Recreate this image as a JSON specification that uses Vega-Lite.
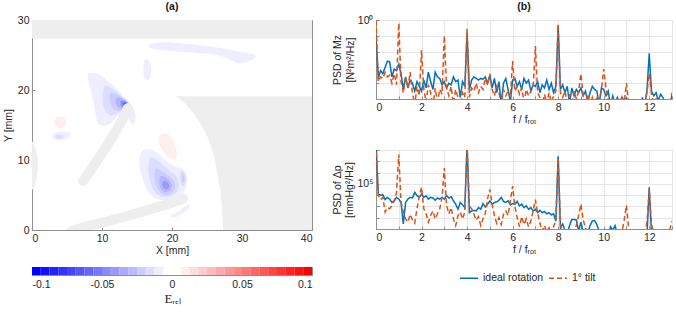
{
  "$schema": "https://vega.github.io/schema/vega-lite/v6.json",
  "background": "white",
  "padding": {"left": 2, "top": 1, "right": 2, "bottom": 2},
  "config": {
    "font": "Liberation Sans",
    "view": {"stroke": "#8f8f8f", "strokeWidth": 1},
    "axis": {
      "labelFontSize": 10.5, "titleFontSize": 10.5, "labelColor": "#262626", "titleColor": "#262626",
      "titleFontWeight": "normal", "domainColor": "#8f8f8f", "tickColor": "#8f8f8f", "gridColor": "#e6e6e6",
      "tickSize": -3, "labelPadding": 6
    },
    "title": {"fontSize": 10.5, "fontWeight": "bold", "color": "#1a1a1a", "offset": 3},
    "legend": {"labelFontSize": 10.5, "labelColor": "#262626"}
  },
  "spacing": 18,
  "hconcat": [
    {
      "bounds": "flush",
      "spacing": 37,
      "vconcat": [
        {
          "width": 280, "height": 210,
          "title": "(a)",
          "layer": [
            {
              "data": {"name": "contours", "values": [
                {"id": "c01", "lvl": -0.0094, "i": 0, "x": 8.0, "y": 22.2}, {"id": "c01", "lvl": -0.0094, "i": 1, "x": 9.0, "y": 22.4}, {"id": "c01", "lvl": -0.0094, "i": 2, "x": 10.2, "y": 21.8}, {"id": "c01", "lvl": -0.0094, "i": 3, "x": 11.5, "y": 20.7}, {"id": "c01", "lvl": -0.0094, "i": 4, "x": 12.6, "y": 19.6}, {"id": "c01", "lvl": -0.0094, "i": 5, "x": 13.6, "y": 18.6}, {"id": "c01", "lvl": -0.0094, "i": 6, "x": 14.4, "y": 17.5}, {"id": "c01", "lvl": -0.0094, "i": 7, "x": 14.8, "y": 16.3}, {"id": "c01", "lvl": -0.0094, "i": 8, "x": 14.5, "y": 15.1}, {"id": "c01", "lvl": -0.0094, "i": 9, "x": 13.9, "y": 15.8}, {"id": "c01", "lvl": -0.0094, "i": 10, "x": 13.2, "y": 16.6}, {"id": "c01", "lvl": -0.0094, "i": 11, "x": 12.2, "y": 16.2}, {"id": "c01", "lvl": -0.0094, "i": 12, "x": 11.3, "y": 15.3}, {"id": "c01", "lvl": -0.0094, "i": 13, "x": 10.3, "y": 14.9}, {"id": "c01", "lvl": -0.0094, "i": 14, "x": 9.4, "y": 15.3}, {"id": "c01", "lvl": -0.0094, "i": 15, "x": 9.0, "y": 17.0}, {"id": "c01", "lvl": -0.0094, "i": 16, "x": 8.6, "y": 19.2}, {"id": "c01", "lvl": -0.0094, "i": 17, "x": 8.1, "y": 21.0},
                {"id": "c02", "lvl": -0.0156, "i": 0, "x": 10.4, "y": 20.6}, {"id": "c02", "lvl": -0.0156, "i": 1, "x": 11.6, "y": 20.1}, {"id": "c02", "lvl": -0.0156, "i": 2, "x": 12.7, "y": 19.2}, {"id": "c02", "lvl": -0.0156, "i": 3, "x": 13.6, "y": 18.4}, {"id": "c02", "lvl": -0.0156, "i": 4, "x": 14.1, "y": 17.5}, {"id": "c02", "lvl": -0.0156, "i": 5, "x": 13.4, "y": 17.0}, {"id": "c02", "lvl": -0.0156, "i": 6, "x": 12.3, "y": 16.7}, {"id": "c02", "lvl": -0.0156, "i": 7, "x": 11.2, "y": 16.4}, {"id": "c02", "lvl": -0.0156, "i": 8, "x": 10.4, "y": 17.2}, {"id": "c02", "lvl": -0.0156, "i": 9, "x": 10.1, "y": 18.8},
                {"id": "c03", "lvl": -0.0219, "i": 0, "x": 11.3, "y": 19.6}, {"id": "c03", "lvl": -0.0219, "i": 1, "x": 12.4, "y": 19.2}, {"id": "c03", "lvl": -0.0219, "i": 2, "x": 13.4, "y": 18.5}, {"id": "c03", "lvl": -0.0219, "i": 3, "x": 13.9, "y": 17.8}, {"id": "c03", "lvl": -0.0219, "i": 4, "x": 13.0, "y": 17.2}, {"id": "c03", "lvl": -0.0219, "i": 5, "x": 11.9, "y": 17.1}, {"id": "c03", "lvl": -0.0219, "i": 6, "x": 11.3, "y": 17.9}, {"id": "c03", "lvl": -0.0219, "i": 7, "x": 11.1, "y": 18.8},
                {"id": "c04", "lvl": -0.03, "i": 0, "x": 12.1, "y": 18.9}, {"id": "c04", "lvl": -0.03, "i": 1, "x": 13.0, "y": 18.7}, {"id": "c04", "lvl": -0.03, "i": 2, "x": 13.7, "y": 18.1}, {"id": "c04", "lvl": -0.03, "i": 3, "x": 13.3, "y": 17.5}, {"id": "c04", "lvl": -0.03, "i": 4, "x": 12.5, "y": 17.4}, {"id": "c04", "lvl": -0.03, "i": 5, "x": 12.0, "y": 18.0},
                {"id": "c05", "lvl": -0.045, "i": 0, "x": 12.7, "y": 18.4}, {"id": "c05", "lvl": -0.045, "i": 1, "x": 13.3, "y": 18.4}, {"id": "c05", "lvl": -0.045, "i": 2, "x": 13.7, "y": 18.0}, {"id": "c05", "lvl": -0.045, "i": 3, "x": 13.2, "y": 17.6}, {"id": "c05", "lvl": -0.045, "i": 4, "x": 12.7, "y": 17.8},
                {"id": "c06", "lvl": -0.065, "i": 0, "x": 13.1, "y": 18.2}, {"id": "c06", "lvl": -0.065, "i": 1, "x": 13.5, "y": 18.1}, {"id": "c06", "lvl": -0.065, "i": 2, "x": 13.5, "y": 17.8}, {"id": "c06", "lvl": -0.065, "i": 3, "x": 13.1, "y": 17.8},
                {"id": "c11", "lvl": -0.0094, "i": 0, "x": 15.8, "y": 11.3}, {"id": "c11", "lvl": -0.0094, "i": 1, "x": 16.8, "y": 11.5}, {"id": "c11", "lvl": -0.0094, "i": 2, "x": 17.8, "y": 11.1}, {"id": "c11", "lvl": -0.0094, "i": 3, "x": 18.8, "y": 10.2}, {"id": "c11", "lvl": -0.0094, "i": 4, "x": 19.7, "y": 9.5}, {"id": "c11", "lvl": -0.0094, "i": 5, "x": 20.6, "y": 9.0}, {"id": "c11", "lvl": -0.0094, "i": 6, "x": 21.4, "y": 8.8}, {"id": "c11", "lvl": -0.0094, "i": 7, "x": 22.0, "y": 8.0}, {"id": "c11", "lvl": -0.0094, "i": 8, "x": 22.1, "y": 6.8}, {"id": "c11", "lvl": -0.0094, "i": 9, "x": 21.8, "y": 5.6}, {"id": "c11", "lvl": -0.0094, "i": 10, "x": 21.1, "y": 4.8}, {"id": "c11", "lvl": -0.0094, "i": 11, "x": 20.0, "y": 4.4}, {"id": "c11", "lvl": -0.0094, "i": 12, "x": 18.7, "y": 4.3}, {"id": "c11", "lvl": -0.0094, "i": 13, "x": 17.5, "y": 4.6}, {"id": "c11", "lvl": -0.0094, "i": 14, "x": 16.5, "y": 5.6}, {"id": "c11", "lvl": -0.0094, "i": 15, "x": 15.8, "y": 7.3}, {"id": "c11", "lvl": -0.0094, "i": 16, "x": 15.4, "y": 9.0}, {"id": "c11", "lvl": -0.0094, "i": 17, "x": 15.4, "y": 10.4},
                {"id": "c12", "lvl": -0.0156, "i": 0, "x": 16.9, "y": 10.3}, {"id": "c12", "lvl": -0.0156, "i": 1, "x": 17.9, "y": 10.0}, {"id": "c12", "lvl": -0.0156, "i": 2, "x": 18.9, "y": 9.1}, {"id": "c12", "lvl": -0.0156, "i": 3, "x": 19.9, "y": 8.3}, {"id": "c12", "lvl": -0.0156, "i": 4, "x": 20.7, "y": 7.6}, {"id": "c12", "lvl": -0.0156, "i": 5, "x": 21.0, "y": 6.4}, {"id": "c12", "lvl": -0.0156, "i": 6, "x": 20.5, "y": 5.2}, {"id": "c12", "lvl": -0.0156, "i": 7, "x": 19.4, "y": 4.7}, {"id": "c12", "lvl": -0.0156, "i": 8, "x": 18.2, "y": 4.9}, {"id": "c12", "lvl": -0.0156, "i": 9, "x": 17.3, "y": 5.8}, {"id": "c12", "lvl": -0.0156, "i": 10, "x": 16.8, "y": 7.2}, {"id": "c12", "lvl": -0.0156, "i": 11, "x": 16.6, "y": 8.8},
                {"id": "c13", "lvl": -0.0219, "i": 0, "x": 17.7, "y": 8.8}, {"id": "c13", "lvl": -0.0219, "i": 1, "x": 18.7, "y": 8.3}, {"id": "c13", "lvl": -0.0219, "i": 2, "x": 19.8, "y": 7.5}, {"id": "c13", "lvl": -0.0219, "i": 3, "x": 20.4, "y": 6.6}, {"id": "c13", "lvl": -0.0219, "i": 4, "x": 20.2, "y": 5.5}, {"id": "c13", "lvl": -0.0219, "i": 5, "x": 19.3, "y": 5.0}, {"id": "c13", "lvl": -0.0219, "i": 6, "x": 18.4, "y": 5.3}, {"id": "c13", "lvl": -0.0219, "i": 7, "x": 17.8, "y": 6.2}, {"id": "c13", "lvl": -0.0219, "i": 8, "x": 17.5, "y": 7.5},
                {"id": "c14", "lvl": -0.03, "i": 0, "x": 18.4, "y": 7.7}, {"id": "c14", "lvl": -0.03, "i": 1, "x": 19.3, "y": 7.4}, {"id": "c14", "lvl": -0.03, "i": 2, "x": 19.9, "y": 6.6}, {"id": "c14", "lvl": -0.03, "i": 3, "x": 19.7, "y": 5.7}, {"id": "c14", "lvl": -0.03, "i": 4, "x": 19.0, "y": 5.4}, {"id": "c14", "lvl": -0.03, "i": 5, "x": 18.4, "y": 5.9}, {"id": "c14", "lvl": -0.03, "i": 6, "x": 18.2, "y": 6.8},
                {"id": "c15", "lvl": -0.04, "i": 0, "x": 18.8, "y": 7.0}, {"id": "c15", "lvl": -0.04, "i": 1, "x": 19.4, "y": 6.8}, {"id": "c15", "lvl": -0.04, "i": 2, "x": 19.6, "y": 6.2}, {"id": "c15", "lvl": -0.04, "i": 3, "x": 19.2, "y": 5.8}, {"id": "c15", "lvl": -0.04, "i": 4, "x": 18.8, "y": 6.0}, {"id": "c15", "lvl": -0.04, "i": 5, "x": 18.6, "y": 6.5},
                {"id": "c16", "lvl": -0.0156, "i": 0, "x": 21.3, "y": 8.5}, {"id": "c16", "lvl": -0.0156, "i": 1, "x": 21.8, "y": 8.2}, {"id": "c16", "lvl": -0.0156, "i": 2, "x": 22.0, "y": 7.2}, {"id": "c16", "lvl": -0.0156, "i": 3, "x": 21.7, "y": 6.3}, {"id": "c16", "lvl": -0.0156, "i": 4, "x": 21.3, "y": 6.6}, {"id": "c16", "lvl": -0.0156, "i": 5, "x": 21.1, "y": 7.6},
                {"id": "c17", "lvl": -0.0219, "i": 0, "x": 21.45, "y": 7.9}, {"id": "c17", "lvl": -0.0219, "i": 1, "x": 21.75, "y": 7.6}, {"id": "c17", "lvl": -0.0219, "i": 2, "x": 21.7, "y": 6.9}, {"id": "c17", "lvl": -0.0219, "i": 3, "x": 21.45, "y": 7.0},
                {"id": "c18", "lvl": -0.0094, "i": 0, "x": 19.8, "y": 2.0}, {"id": "c18", "lvl": -0.0094, "i": 1, "x": 20.8, "y": 2.6}, {"id": "c18", "lvl": -0.0094, "i": 2, "x": 21.8, "y": 3.3}, {"id": "c18", "lvl": -0.0094, "i": 3, "x": 22.4, "y": 3.7}, {"id": "c18", "lvl": -0.0094, "i": 4, "x": 22.3, "y": 3.0}, {"id": "c18", "lvl": -0.0094, "i": 5, "x": 21.5, "y": 2.4}, {"id": "c18", "lvl": -0.0094, "i": 6, "x": 20.4, "y": 1.8},
                {"id": "c21", "lvl": -0.0094, "i": 0, "x": 2.9, "y": 13.5}, {"id": "c21", "lvl": -0.0094, "i": 1, "x": 3.4, "y": 13.9}, {"id": "c21", "lvl": -0.0094, "i": 2, "x": 4.4, "y": 14.0}, {"id": "c21", "lvl": -0.0094, "i": 3, "x": 5.4, "y": 13.9}, {"id": "c21", "lvl": -0.0094, "i": 4, "x": 5.3, "y": 13.3}, {"id": "c21", "lvl": -0.0094, "i": 5, "x": 4.4, "y": 12.9}, {"id": "c21", "lvl": -0.0094, "i": 6, "x": 3.3, "y": 12.9},
                {"id": "c22", "lvl": -0.0156, "i": 0, "x": 3.3, "y": 13.4}, {"id": "c22", "lvl": -0.0156, "i": 1, "x": 3.8, "y": 13.6}, {"id": "c22", "lvl": -0.0156, "i": 2, "x": 4.5, "y": 13.5}, {"id": "c22", "lvl": -0.0156, "i": 3, "x": 4.3, "y": 13.1}, {"id": "c22", "lvl": -0.0156, "i": 4, "x": 3.5, "y": 13.1},
                {"id": "c31", "lvl": -0.0094, "i": 0, "x": 16.8, "y": 26.5}, {"id": "c31", "lvl": -0.0094, "i": 1, "x": 18.5, "y": 26.8}, {"id": "c31", "lvl": -0.0094, "i": 2, "x": 21.0, "y": 26.7}, {"id": "c31", "lvl": -0.0094, "i": 3, "x": 24.0, "y": 26.4}, {"id": "c31", "lvl": -0.0094, "i": 4, "x": 27.0, "y": 26.0}, {"id": "c31", "lvl": -0.0094, "i": 5, "x": 29.5, "y": 25.5}, {"id": "c31", "lvl": -0.0094, "i": 6, "x": 31.2, "y": 25.2}, {"id": "c31", "lvl": -0.0094, "i": 7, "x": 32.0, "y": 24.8}, {"id": "c31", "lvl": -0.0094, "i": 8, "x": 31.0, "y": 24.1}, {"id": "c31", "lvl": -0.0094, "i": 9, "x": 29.6, "y": 23.8}, {"id": "c31", "lvl": -0.0094, "i": 10, "x": 28.5, "y": 24.2}, {"id": "c31", "lvl": -0.0094, "i": 11, "x": 26.5, "y": 25.0}, {"id": "c31", "lvl": -0.0094, "i": 12, "x": 23.5, "y": 25.3}, {"id": "c31", "lvl": -0.0094, "i": 13, "x": 20.5, "y": 25.5}, {"id": "c31", "lvl": -0.0094, "i": 14, "x": 18.0, "y": 25.8}, {"id": "c31", "lvl": -0.0094, "i": 15, "x": 16.9, "y": 26.0},
                {"id": "c32", "lvl": -0.0094, "i": 0, "x": 16.1, "y": 24.2}, {"id": "c32", "lvl": -0.0094, "i": 1, "x": 16.6, "y": 24.3}, {"id": "c32", "lvl": -0.0094, "i": 2, "x": 17.0, "y": 23.5}, {"id": "c32", "lvl": -0.0094, "i": 3, "x": 17.0, "y": 22.3}, {"id": "c32", "lvl": -0.0094, "i": 4, "x": 16.6, "y": 21.4}, {"id": "c32", "lvl": -0.0094, "i": 5, "x": 16.1, "y": 21.7}, {"id": "c32", "lvl": -0.0094, "i": 6, "x": 15.9, "y": 22.8},
                {"id": "c41", "lvl": 0.0094, "i": 0, "x": 3.2, "y": 15.6}, {"id": "c41", "lvl": 0.0094, "i": 1, "x": 3.6, "y": 16.1}, {"id": "c41", "lvl": 0.0094, "i": 2, "x": 4.3, "y": 16.2}, {"id": "c41", "lvl": 0.0094, "i": 3, "x": 4.9, "y": 15.7}, {"id": "c41", "lvl": 0.0094, "i": 4, "x": 4.8, "y": 14.9}, {"id": "c41", "lvl": 0.0094, "i": 5, "x": 4.2, "y": 14.5}, {"id": "c41", "lvl": 0.0094, "i": 6, "x": 3.5, "y": 14.7},
                {"id": "c42", "lvl": 0.0094, "i": 0, "x": 18.2, "y": 13.3}, {"id": "c42", "lvl": 0.0094, "i": 1, "x": 18.7, "y": 13.8}, {"id": "c42", "lvl": 0.0094, "i": 2, "x": 19.5, "y": 13.6}, {"id": "c42", "lvl": 0.0094, "i": 3, "x": 20.3, "y": 12.6}, {"id": "c42", "lvl": 0.0094, "i": 4, "x": 20.7, "y": 11.0}, {"id": "c42", "lvl": 0.0094, "i": 5, "x": 20.5, "y": 10.1}, {"id": "c42", "lvl": 0.0094, "i": 6, "x": 19.8, "y": 10.2}, {"id": "c42", "lvl": 0.0094, "i": 7, "x": 18.9, "y": 11.1}, {"id": "c42", "lvl": 0.0094, "i": 8, "x": 18.2, "y": 12.3}
              ]},
              "mark": {"type": "line", "interpolate": "cardinal-closed", "strokeWidth": 0, "clip": true},
              "encoding": {
                "x": {"field": "x", "type": "quantitative", "scale": {"domain": [0, 40], "nice": false},
                      "axis": {"title": "X [mm]", "values": [0, 10, 20, 30, 40], "grid": false, "titlePadding": 2}},
                "y": {"field": "y", "type": "quantitative", "scale": {"domain": [0, 30], "nice": false},
                      "axis": {"title": "Y [mm]", "values": [0, 5, 10, 15, 20, 25, 30], "grid": false, "titlePadding": 4}},
                "detail": {"field": "id"},
                "order": {"field": "i", "type": "quantitative"},
                "fill": {"field": "lvl", "type": "quantitative", "legend": null,
                         "scale": {"domain": [-0.096875, -0.003125, 0.003125, 0.096875], "range": ["#0000ff", "#ffffff", "#ffffff", "#ff0000"], "clamp": true, "interpolate": "rgb"}}
              }
            },
            {
              "data": {"name": "walls", "values": [
                {"id": "w1", "i": 0, "x": -1, "y": 27.35}, {"id": "w1", "i": 1, "x": 41, "y": 27.35}, {"id": "w1", "i": 2, "x": 41, "y": 31}, {"id": "w1", "i": 3, "x": -1, "y": 31},
                {"id": "w2", "i": 0, "x": 20.6, "y": 19.1}, {"id": "w2", "i": 1, "x": 41, "y": 19.1}, {"id": "w2", "i": 2, "x": 41, "y": -1}, {"id": "w2", "i": 3, "x": 27.35, "y": -1}, {"id": "w2", "i": 4, "x": 27.3, "y": 0}, {"id": "w2", "i": 5, "x": 27.15, "y": 3}, {"id": "w2", "i": 6, "x": 26.9, "y": 5.5}, {"id": "w2", "i": 7, "x": 26.5, "y": 8}, {"id": "w2", "i": 8, "x": 26.0, "y": 10.5}, {"id": "w2", "i": 9, "x": 25.2, "y": 13}, {"id": "w2", "i": 10, "x": 24.2, "y": 15.0}, {"id": "w2", "i": 11, "x": 23.2, "y": 16.5}, {"id": "w2", "i": 12, "x": 22.2, "y": 17.7}, {"id": "w2", "i": 13, "x": 21.3, "y": 18.6}, {"id": "w2", "i": 14, "x": 20.8, "y": 18.9},
                {"id": "w3", "i": 0, "x": -1, "y": 5.7}, {"id": "w3", "i": 1, "x": 0.3, "y": 5.8}, {"id": "w3", "i": 2, "x": 0.7, "y": 7.5}, {"id": "w3", "i": 3, "x": 0.85, "y": 9}, {"id": "w3", "i": 4, "x": 0.8, "y": 10.5}, {"id": "w3", "i": 5, "x": 0.5, "y": 11.8}, {"id": "w3", "i": 6, "x": 0.1, "y": 12.6}, {"id": "w3", "i": 7, "x": -1, "y": 12.6}
              ]},
              "mark": {"type": "line", "interpolate": "linear-closed", "strokeWidth": 0, "clip": true},
              "encoding": {
                "x": {"field": "x", "type": "quantitative"},
                "y": {"field": "y", "type": "quantitative"},
                "detail": {"field": "id"},
                "order": {"field": "i", "type": "quantitative"},
                "fill": {"value": "#eeeeee"}
              }
            },
            {
              "data": {"name": "blades", "values": [
                {"id": "b1", "i": 0, "x": 7.3, "y": 7.0}, {"id": "b1", "i": 1, "x": 8.4, "y": 8.6}, {"id": "b1", "i": 2, "x": 9.7, "y": 10.5}, {"id": "b1", "i": 3, "x": 11.0, "y": 12.5}, {"id": "b1", "i": 4, "x": 12.2, "y": 14.5}, {"id": "b1", "i": 5, "x": 13.1, "y": 16.1}, {"id": "b1", "i": 6, "x": 13.7, "y": 17.4},
                {"id": "b2", "i": 0, "x": 5.6, "y": -0.2}, {"id": "b2", "i": 1, "x": 8.0, "y": 0.55}, {"id": "b2", "i": 2, "x": 11.0, "y": 1.3}, {"id": "b2", "i": 3, "x": 14.0, "y": 2.1}, {"id": "b2", "i": 4, "x": 17.0, "y": 3.0}, {"id": "b2", "i": 5, "x": 19.5, "y": 3.75}, {"id": "b2", "i": 6, "x": 21.6, "y": 4.5}
              ]},
              "mark": {"type": "line", "interpolate": "cardinal", "stroke": "#eeeeee", "strokeWidth": 10, "strokeCap": "round", "clip": true},
              "encoding": {
                "x": {"field": "x", "type": "quantitative"},
                "y": {"field": "y", "type": "quantitative"},
                "detail": {"field": "id"},
                "order": {"field": "i", "type": "quantitative"}
              }
            }
          ]
        },
        {
          "width": 280, "height": 8,
          "data": {"name": "colorbar", "values": [
            {"lo": -0.1, "hi": -0.09375, "mid": -0.096875}, {"lo": -0.09375, "hi": -0.0875, "mid": -0.090625},
            {"lo": -0.0875, "hi": -0.08125, "mid": -0.084375}, {"lo": -0.08125, "hi": -0.075, "mid": -0.078125},
            {"lo": -0.075, "hi": -0.06875, "mid": -0.071875}, {"lo": -0.06875, "hi": -0.0625, "mid": -0.065625},
            {"lo": -0.0625, "hi": -0.05625, "mid": -0.059375}, {"lo": -0.05625, "hi": -0.05, "mid": -0.053125},
            {"lo": -0.05, "hi": -0.04375, "mid": -0.046875}, {"lo": -0.04375, "hi": -0.0375, "mid": -0.040625},
            {"lo": -0.0375, "hi": -0.03125, "mid": -0.034375}, {"lo": -0.03125, "hi": -0.025, "mid": -0.028125},
            {"lo": -0.025, "hi": -0.01875, "mid": -0.021875}, {"lo": -0.01875, "hi": -0.0125, "mid": -0.015625},
            {"lo": -0.0125, "hi": -0.00625, "mid": -0.009375}, {"lo": -0.00625, "hi": 0, "mid": -0.003125},
            {"lo": 0, "hi": 0.00625, "mid": 0.003125}, {"lo": 0.00625, "hi": 0.0125, "mid": 0.009375},
            {"lo": 0.0125, "hi": 0.01875, "mid": 0.015625}, {"lo": 0.01875, "hi": 0.025, "mid": 0.021875},
            {"lo": 0.025, "hi": 0.03125, "mid": 0.028125}, {"lo": 0.03125, "hi": 0.0375, "mid": 0.034375},
            {"lo": 0.0375, "hi": 0.04375, "mid": 0.040625}, {"lo": 0.04375, "hi": 0.05, "mid": 0.046875},
            {"lo": 0.05, "hi": 0.05625, "mid": 0.053125}, {"lo": 0.05625, "hi": 0.0625, "mid": 0.059375},
            {"lo": 0.0625, "hi": 0.06875, "mid": 0.065625}, {"lo": 0.06875, "hi": 0.075, "mid": 0.071875},
            {"lo": 0.075, "hi": 0.08125, "mid": 0.078125}, {"lo": 0.08125, "hi": 0.0875, "mid": 0.084375},
            {"lo": 0.0875, "hi": 0.09375, "mid": 0.090625}, {"lo": 0.09375, "hi": 0.1, "mid": 0.096875}
          ]},
          "mark": {"type": "rect"},
          "encoding": {
            "x": {"field": "lo", "type": "quantitative", "scale": {"domain": [-0.1, 0.1], "nice": false},
                  "axis": {"title": "Eᵣₑₗ", "titleFont": "Liberation Serif", "titleFontSize": 13, "titlePadding": 3,
                           "values": [-0.1, -0.05, 0, 0.05, 0.1], "labelExpr": "'' + datum.value", "grid": false, "labelPadding": 7}},
            "x2": {"field": "hi"},
            "fill": {"field": "mid", "type": "quantitative", "legend": null,
                     "scale": {"domain": [-0.096875, -0.003125, 0.003125, 0.096875], "range": ["#0000ff", "#ffffff", "#ffffff", "#ff0000"], "clamp": true, "interpolate": "rgb"}}
          }
        }
      ]
    },
    {
      "bounds": "flush",
      "spacing": 51,
      "resolve": {"scale": {"color": "independent", "strokeDash": "independent"}},
      "vconcat": [
        {
          "width": 296, "height": 79,
          "title": "(b)",
          "data": {"name": "psd_mz", "values": [
            {"f": 0, "ideal rotation": 0.126, "1° tilt": 1.0}, {"f": 0.1, "ideal rotation": 2.0e-4, "1° tilt": 1.26e-4}, {"f": 0.2, "ideal rotation": 6.3e-4, "1° tilt": 2.5e-4}, {"f": 0.3, "ideal rotation": 4.0e-4, "1° tilt": 2.0e-4}, {"f": 0.4, "ideal rotation": 1e-3, "1° tilt": 5.0e-4}, {"f": 0.5, "ideal rotation": 2.5e-3, "1° tilt": 2.5e-4}, {"f": 0.6, "ideal rotation": 2.24e-3, "1° tilt": 3.16e-4}, {"f": 0.7, "ideal rotation": 2.5e-4, "1° tilt": 1e-4}, {"f": 0.8, "ideal rotation": 7.9e-4, "1° tilt": 4.0e-4}, {"f": 0.9, "ideal rotation": 6.3e-4, "1° tilt": 7.9e-5},
            {"f": 1.0, "ideal rotation": 1.58e-3, "1° tilt": 0.63}, {"f": 1.1, "ideal rotation": 4.0e-4, "1° tilt": 1.26e-4}, {"f": 1.2, "ideal rotation": 4.0e-5, "1° tilt": 2.5e-5}, {"f": 1.3, "ideal rotation": 2.5e-4, "1° tilt": 2.5e-4}, {"f": 1.4, "ideal rotation": 5.0e-5, "1° tilt": 5.0e-5}, {"f": 1.5, "ideal rotation": 1.58e-4, "1° tilt": 5.0e-4}, {"f": 1.6, "ideal rotation": 1e-4, "1° tilt": 2.5e-5}, {"f": 1.7, "ideal rotation": 3.16e-5, "1° tilt": 4.0e-6}, {"f": 1.8, "ideal rotation": 1.26e-4, "1° tilt": 6.3e-5}, {"f": 1.9, "ideal rotation": 6.3e-5, "1° tilt": 1.58e-5},
            {"f": 2.0, "ideal rotation": 3.16e-5, "1° tilt": 1.26e-2}, {"f": 2.1, "ideal rotation": 1.58e-4, "1° tilt": 4.0e-5}, {"f": 2.2, "ideal rotation": 5.0e-5, "1° tilt": 6.3e-6}, {"f": 2.3, "ideal rotation": 5.0e-4, "1° tilt": 7.9e-5}, {"f": 2.4, "ideal rotation": 1.26e-4, "1° tilt": 2.5e-5}, {"f": 2.5, "ideal rotation": 4.0e-5, "1° tilt": 3.16e-6}, {"f": 2.6, "ideal rotation": 5.0e-4, "1° tilt": 5.0e-5}, {"f": 2.7, "ideal rotation": 2.5e-4, "1° tilt": 6.3e-6}, {"f": 2.8, "ideal rotation": 2.0e-4, "1° tilt": 4.0e-5}, {"f": 2.9, "ideal rotation": 7.9e-5, "1° tilt": 2.0e-5},
            {"f": 3.0, "ideal rotation": 1.26e-4, "1° tilt": 0.1}, {"f": 3.1, "ideal rotation": 5.0e-5, "1° tilt": 5.0e-5}, {"f": 3.2, "ideal rotation": 1e-4, "1° tilt": 1.58e-5}, {"f": 3.3, "ideal rotation": 7.9e-5, "1° tilt": 6.3e-5}, {"f": 3.4, "ideal rotation": 2.5e-4, "1° tilt": 5.0e-6}, {"f": 3.5, "ideal rotation": 1.26e-4, "1° tilt": 4.0e-5}, {"f": 3.6, "ideal rotation": 1.58e-4, "1° tilt": 1.26e-5}, {"f": 3.7, "ideal rotation": 1.26e-5, "1° tilt": 4.0e-6}, {"f": 3.8, "ideal rotation": 1.26e-4, "1° tilt": 2.5e-5}, {"f": 3.9, "ideal rotation": 6.3e-5, "1° tilt": 1.26e-5},
            {"f": 4.0, "ideal rotation": 0.158, "1° tilt": 0.282}, {"f": 4.1, "ideal rotation": 4.0e-5, "1° tilt": 1.26e-5}, {"f": 4.2, "ideal rotation": 1.58e-4, "1° tilt": 5.0e-5}, {"f": 4.3, "ideal rotation": 2.5e-4, "1° tilt": 3.16e-5}, {"f": 4.4, "ideal rotation": 2.0e-4, "1° tilt": 1e-4}, {"f": 4.5, "ideal rotation": 1.58e-4, "1° tilt": 2.5e-5}, {"f": 4.6, "ideal rotation": 2.0e-4, "1° tilt": 6.3e-5}, {"f": 4.7, "ideal rotation": 1.78e-4, "1° tilt": 4.0e-5}, {"f": 4.8, "ideal rotation": 2.5e-4, "1° tilt": 2.0e-4}, {"f": 4.9, "ideal rotation": 1e-4, "1° tilt": 7.9e-5},
            {"f": 5.0, "ideal rotation": 3.16e-4, "1° tilt": 4.0e-4}, {"f": 5.1, "ideal rotation": 5.0e-5, "1° tilt": 4.0e-5}, {"f": 5.2, "ideal rotation": 2.0e-4, "1° tilt": 1.58e-5}, {"f": 5.3, "ideal rotation": 2.5e-5, "1° tilt": 6.3e-5}, {"f": 5.4, "ideal rotation": 1.26e-4, "1° tilt": 2.5e-5}, {"f": 5.5, "ideal rotation": 5.0e-6, "1° tilt": 5.0e-6}, {"f": 5.6, "ideal rotation": 1e-4, "1° tilt": 4.0e-5}, {"f": 5.7, "ideal rotation": 2.0e-4, "1° tilt": 1.58e-5}, {"f": 5.8, "ideal rotation": 4.0e-5, "1° tilt": 3.16e-5}, {"f": 5.9, "ideal rotation": 6.3e-6, "1° tilt": 1.26e-5},
            {"f": 6.0, "ideal rotation": 1.58e-4, "1° tilt": 2.5e-3}, {"f": 6.1, "ideal rotation": 2.0e-4, "1° tilt": 3.16e-5}, {"f": 6.2, "ideal rotation": 6.3e-5, "1° tilt": 6.3e-5}, {"f": 6.3, "ideal rotation": 1.26e-4, "1° tilt": 2.0e-5}, {"f": 6.4, "ideal rotation": 4.0e-5, "1° tilt": 5.0e-5}, {"f": 6.5, "ideal rotation": 2.0e-4, "1° tilt": 6.3e-6}, {"f": 6.6, "ideal rotation": 1e-4, "1° tilt": 4.0e-5}, {"f": 6.7, "ideal rotation": 1.58e-4, "1° tilt": 1.58e-5}, {"f": 6.8, "ideal rotation": 3.16e-5, "1° tilt": 3.16e-5}, {"f": 6.9, "ideal rotation": 7.9e-5, "1° tilt": 5.0e-5},
            {"f": 7.0, "ideal rotation": 6.3e-5, "1° tilt": 2.24e-2}, {"f": 7.1, "ideal rotation": 1.26e-4, "1° tilt": 2.5e-5}, {"f": 7.2, "ideal rotation": 2.5e-5, "1° tilt": 1.26e-5}, {"f": 7.3, "ideal rotation": 7.9e-5, "1° tilt": 4.0e-6}, {"f": 7.4, "ideal rotation": 5.0e-5, "1° tilt": 2.0e-5}, {"f": 7.5, "ideal rotation": 1.58e-4, "1° tilt": 5.0e-6}, {"f": 7.6, "ideal rotation": 4.0e-5, "1° tilt": 2.5e-5}, {"f": 7.7, "ideal rotation": 1e-4, "1° tilt": 6.3e-6}, {"f": 7.8, "ideal rotation": 2.5e-5, "1° tilt": 1.58e-5}, {"f": 7.9, "ideal rotation": 6.3e-5, "1° tilt": 3.16e-5},
            {"f": 8.0, "ideal rotation": 0.447, "1° tilt": 0.59}, {"f": 8.1, "ideal rotation": 4.0e-5, "1° tilt": 2.5e-5}, {"f": 8.2, "ideal rotation": 7.9e-5, "1° tilt": 1.26e-5}, {"f": 8.3, "ideal rotation": 2.5e-5, "1° tilt": 3.16e-5}, {"f": 8.4, "ideal rotation": 6.3e-5, "1° tilt": 6.3e-6}, {"f": 8.5, "ideal rotation": 5.0e-6, "1° tilt": 2.0e-5}, {"f": 8.6, "ideal rotation": 5.0e-5, "1° tilt": 4.0e-6}, {"f": 8.7, "ideal rotation": 1.58e-5, "1° tilt": 3.16e-5}, {"f": 8.8, "ideal rotation": 4.0e-5, "1° tilt": 1e-5}, {"f": 8.9, "ideal rotation": 2.5e-5, "1° tilt": 3.16e-5},
            {"f": 9.0, "ideal rotation": 5.0e-5, "1° tilt": 4.0e-4}, {"f": 9.1, "ideal rotation": 1.58e-5, "1° tilt": 1.58e-5}, {"f": 9.2, "ideal rotation": 3.16e-5, "1° tilt": 5.0e-6}, {"f": 9.3, "ideal rotation": 6.3e-6, "1° tilt": 2.0e-5}, {"f": 9.4, "ideal rotation": 2.5e-5, "1° tilt": 4.0e-6}, {"f": 9.5, "ideal rotation": 6.3e-5, "1° tilt": 1.26e-5}, {"f": 9.6, "ideal rotation": 4.0e-5, "1° tilt": 3.16e-6}, {"f": 9.7, "ideal rotation": 3.16e-5, "1° tilt": 1.58e-5}, {"f": 9.8, "ideal rotation": 5.0e-6, "1° tilt": 5.0e-6}, {"f": 9.9, "ideal rotation": 5.0e-5, "1° tilt": 4.0e-5},
            {"f": 10.0, "ideal rotation": 4.0e-5, "1° tilt": 7.9e-4}, {"f": 10.1, "ideal rotation": 1.58e-5, "1° tilt": 5.0e-5}, {"f": 10.2, "ideal rotation": 3.16e-5, "1° tilt": 1e-5}, {"f": 10.3, "ideal rotation": 4.0e-6, "1° tilt": 4.0e-6}, {"f": 10.4, "ideal rotation": 1.58e-5, "1° tilt": 1.26e-5}, {"f": 10.5, "ideal rotation": 5.0e-6, "1° tilt": 3.16e-6}, {"f": 10.6, "ideal rotation": 1.26e-5, "1° tilt": 7.9e-6}, {"f": 10.7, "ideal rotation": 5.0e-6, "1° tilt": 4.0e-6}, {"f": 10.8, "ideal rotation": 1.26e-5, "1° tilt": 1.58e-5}, {"f": 10.9, "ideal rotation": 3.16e-6, "1° tilt": 6.3e-6},
            {"f": 11.0, "ideal rotation": 1.26e-5, "1° tilt": 1e-4}, {"f": 11.1, "ideal rotation": 2.5e-6, "1° tilt": 5.0e-6}, {"f": 11.2, "ideal rotation": 3.16e-6, "1° tilt": 2.5e-6}, {"f": 11.3, "ideal rotation": 7.9e-6, "1° tilt": 4.0e-6}, {"f": 11.4, "ideal rotation": 2.5e-6, "1° tilt": 2.0e-6}, {"f": 11.5, "ideal rotation": 3.16e-6, "1° tilt": 3.16e-6}, {"f": 11.6, "ideal rotation": 2.5e-6, "1° tilt": 2.5e-6}, {"f": 11.7, "ideal rotation": 1.26e-5, "1° tilt": 3.16e-6}, {"f": 11.8, "ideal rotation": 4.0e-6, "1° tilt": 6.3e-6}, {"f": 11.9, "ideal rotation": 3.16e-5, "1° tilt": 2.5e-5},
            {"f": 12.0, "ideal rotation": 7.9e-3, "1° tilt": 4.0e-4}, {"f": 12.1, "ideal rotation": 3.16e-5, "1° tilt": 2.0e-5}, {"f": 12.2, "ideal rotation": 1.58e-5, "1° tilt": 5.0e-6}, {"f": 12.3, "ideal rotation": 2.5e-5, "1° tilt": 1e-5}, {"f": 12.4, "ideal rotation": 7.9e-6, "1° tilt": 3.16e-6}, {"f": 12.5, "ideal rotation": 2.0e-5, "1° tilt": 5.0e-6}, {"f": 12.6, "ideal rotation": 1.26e-5, "1° tilt": 2.5e-6}, {"f": 12.7, "ideal rotation": 5.0e-6, "1° tilt": 4.0e-6}, {"f": 12.8, "ideal rotation": 4.0e-6, "1° tilt": 3.16e-6}, {"f": 12.9, "ideal rotation": 2.5e-6, "1° tilt": 4.0e-6},
            {"f": 13.0, "ideal rotation": 2.0e-5, "1° tilt": 2.5e-5}
          ]},
          "transform": [{"fold": ["ideal rotation", "1° tilt"], "as": ["series", "psd"]}],
          "mark": {"type": "line", "strokeWidth": 1.5, "clip": true},
          "encoding": {
            "x": {"field": "f", "type": "quantitative", "scale": {"domain": [0, 13], "nice": false},
                  "axis": {"title": "f / fᵣₒₜ", "values": [0, 1, 2, 3, 4, 5, 6, 7, 8, 9, 10, 11, 12, 13], "labelExpr": "datum.value % 2 == 0 ? datum.label : ''", "grid": true, "titlePadding": 2}},
            "y": {"field": "psd", "type": "quantitative", "scale": {"type": "log", "domain": [1e-5, 1], "nice": false},
                  "axis": {"title": ["PSD of Mz", "[N²m²/Hz]"], "values": [1e-5, 1e-4, 1e-3, 1e-2, 1e-1, 1], "labelExpr": "datum.value == 1 ? '10⁰' : ''", "grid": true, "titlePadding": 2}},
            "color": {"field": "series", "type": "nominal", "legend": null,
                      "scale": {"domain": ["ideal rotation", "1° tilt"], "range": ["#0072BD", "#D95319"]}},
            "strokeDash": {"field": "series", "type": "nominal", "legend": null,
                           "scale": {"domain": ["ideal rotation", "1° tilt"], "range": [[1, 0], [5, 3]]}}
          }
        },
        {
          "width": 296, "height": 79,
          "data": {"name": "psd_dp", "values": [
            {"f": 0, "ideal rotation": 3.16e8, "1° tilt": 3.16e8}, {"f": 0.1, "ideal rotation": 1.26e4, "1° tilt": 1e4}, {"f": 0.2, "ideal rotation": 1e4, "1° tilt": 3.98e3}, {"f": 0.3, "ideal rotation": 1.12e4, "1° tilt": 6.3e3}, {"f": 0.4, "ideal rotation": 3.98e3, "1° tilt": 316}, {"f": 0.5, "ideal rotation": 6.3e3, "1° tilt": 794}, {"f": 0.6, "ideal rotation": 4.47e3, "1° tilt": 631}, {"f": 0.7, "ideal rotation": 2.24e3, "1° tilt": 1.26e3}, {"f": 0.8, "ideal rotation": 3.16e3, "1° tilt": 3.16e3}, {"f": 0.9, "ideal rotation": 6.3e3, "1° tilt": 1.58e4},
            {"f": 1.0, "ideal rotation": 4.47e3, "1° tilt": 3.98e7}, {"f": 1.1, "ideal rotation": 2.24e3, "1° tilt": 2.51e3}, {"f": 1.2, "ideal rotation": 28, "1° tilt": 316}, {"f": 1.3, "ideal rotation": 2.24e3, "1° tilt": 79}, {"f": 1.4, "ideal rotation": 4.47e3, "1° tilt": 40}, {"f": 1.5, "ideal rotation": 6.3e3, "1° tilt": 200}, {"f": 1.6, "ideal rotation": 5.6e3, "1° tilt": 63}, {"f": 1.7, "ideal rotation": 1.78e4, "1° tilt": 32}, {"f": 1.8, "ideal rotation": 8.9e3, "1° tilt": 631}, {"f": 1.9, "ideal rotation": 6.3e3, "1° tilt": 7.9e3},
            {"f": 2.0, "ideal rotation": 1.26e4, "1° tilt": 5.0e4}, {"f": 2.1, "ideal rotation": 6.3e3, "1° tilt": 631}, {"f": 2.2, "ideal rotation": 8.9e3, "1° tilt": 224}, {"f": 2.3, "ideal rotation": 4.47e3, "1° tilt": 40}, {"f": 2.4, "ideal rotation": 6.3e3, "1° tilt": 158}, {"f": 2.5, "ideal rotation": 5.6e3, "1° tilt": 398}, {"f": 2.6, "ideal rotation": 3.55e3, "1° tilt": 79}, {"f": 2.7, "ideal rotation": 5.6e3, "1° tilt": 224}, {"f": 2.8, "ideal rotation": 4.47e3, "1° tilt": 631}, {"f": 2.9, "ideal rotation": 6.3e3, "1° tilt": 6.3e3},
            {"f": 3.0, "ideal rotation": 4.47e3, "1° tilt": 2.51e6}, {"f": 3.1, "ideal rotation": 8.9e3, "1° tilt": 1.26e3}, {"f": 3.2, "ideal rotation": 5.6e3, "1° tilt": 224}, {"f": 3.3, "ideal rotation": 7.1e3, "1° tilt": 794}, {"f": 3.4, "ideal rotation": 3.16e3, "1° tilt": 79}, {"f": 3.5, "ideal rotation": 1.58e3, "1° tilt": 20}, {"f": 3.6, "ideal rotation": 562, "1° tilt": 158}, {"f": 3.7, "ideal rotation": 2.24e3, "1° tilt": 316}, {"f": 3.8, "ideal rotation": 1.41e3, "1° tilt": 79}, {"f": 3.9, "ideal rotation": 794, "1° tilt": 316},
            {"f": 4.0, "ideal rotation": 3.16e8, "1° tilt": 3.16e8}, {"f": 4.1, "ideal rotation": 282, "1° tilt": 1e3}, {"f": 4.2, "ideal rotation": 398, "1° tilt": 631}, {"f": 4.3, "ideal rotation": 447, "1° tilt": 200}, {"f": 4.4, "ideal rotation": 398, "1° tilt": 63}, {"f": 4.5, "ideal rotation": 794, "1° tilt": 126}, {"f": 4.6, "ideal rotation": 562, "1° tilt": 20}, {"f": 4.7, "ideal rotation": 1.78e3, "1° tilt": 79}, {"f": 4.8, "ideal rotation": 891, "1° tilt": 251}, {"f": 4.9, "ideal rotation": 1.58e3, "1° tilt": 5.0e3},
            {"f": 5.0, "ideal rotation": 3.16e3, "1° tilt": 3.16e4}, {"f": 5.1, "ideal rotation": 1.58e3, "1° tilt": 1.58e3}, {"f": 5.2, "ideal rotation": 2.24e3, "1° tilt": 158}, {"f": 5.3, "ideal rotation": 2.51e3, "1° tilt": 32}, {"f": 5.4, "ideal rotation": 3.55e3, "1° tilt": 100}, {"f": 5.5, "ideal rotation": 6.3e3, "1° tilt": 25}, {"f": 5.6, "ideal rotation": 2.82e3, "1° tilt": 200}, {"f": 5.7, "ideal rotation": 2.24e3, "1° tilt": 398}, {"f": 5.8, "ideal rotation": 3.16e3, "1° tilt": 158}, {"f": 5.9, "ideal rotation": 1.41e3, "1° tilt": 3.16e3},
            {"f": 6.0, "ideal rotation": 1.78e3, "1° tilt": 6.3e4}, {"f": 6.1, "ideal rotation": 1.58e3, "1° tilt": 1e3}, {"f": 6.2, "ideal rotation": 2.82e3, "1° tilt": 100}, {"f": 6.3, "ideal rotation": 1.12e3, "1° tilt": 16}, {"f": 6.4, "ideal rotation": 1.58e3, "1° tilt": 126}, {"f": 6.5, "ideal rotation": 794, "1° tilt": 25}, {"f": 6.6, "ideal rotation": 1.12e3, "1° tilt": 79}, {"f": 6.7, "ideal rotation": 562, "1° tilt": 16}, {"f": 6.8, "ideal rotation": 794, "1° tilt": 50}, {"f": 6.9, "ideal rotation": 398, "1° tilt": 398},
            {"f": 7.0, "ideal rotation": 562, "1° tilt": 3.98e3}, {"f": 7.1, "ideal rotation": 282, "1° tilt": 251}, {"f": 7.2, "ideal rotation": 447, "1° tilt": 32}, {"f": 7.3, "ideal rotation": 282, "1° tilt": 6.3}, {"f": 7.4, "ideal rotation": 355, "1° tilt": 20}, {"f": 7.5, "ideal rotation": 224, "1° tilt": 5}, {"f": 7.6, "ideal rotation": 282, "1° tilt": 12.6}, {"f": 7.7, "ideal rotation": 178, "1° tilt": 4}, {"f": 7.8, "ideal rotation": 224, "1° tilt": 16}, {"f": 7.9, "ideal rotation": 50, "1° tilt": 63},
            {"f": 8.0, "ideal rotation": 2.82e7, "1° tilt": 2.0e7}, {"f": 8.1, "ideal rotation": 12.6, "1° tilt": 25}, {"f": 8.2, "ideal rotation": 28, "1° tilt": 5}, {"f": 8.3, "ideal rotation": 7.9, "1° tilt": 12.6}, {"f": 8.4, "ideal rotation": 4, "1° tilt": 3.16}, {"f": 8.5, "ideal rotation": 20, "1° tilt": 6.3}, {"f": 8.6, "ideal rotation": 71, "1° tilt": 2.5}, {"f": 8.7, "ideal rotation": 71, "1° tilt": 7.9}, {"f": 8.8, "ideal rotation": 63, "1° tilt": 20}, {"f": 8.9, "ideal rotation": 6.3, "1° tilt": 158},
            {"f": 9.0, "ideal rotation": 40, "1° tilt": 1.58e3}, {"f": 9.1, "ideal rotation": 5, "1° tilt": 63}, {"f": 9.2, "ideal rotation": 10, "1° tilt": 12.6}, {"f": 9.3, "ideal rotation": 4, "1° tilt": 4}, {"f": 9.4, "ideal rotation": 20, "1° tilt": 7.9}, {"f": 9.5, "ideal rotation": 50, "1° tilt": 2.5}, {"f": 9.6, "ideal rotation": 56, "1° tilt": 4}, {"f": 9.7, "ideal rotation": 25, "1° tilt": 6.3}, {"f": 9.8, "ideal rotation": 6.3, "1° tilt": 3.16}, {"f": 9.9, "ideal rotation": 3.16, "1° tilt": 5},
            {"f": 10.0, "ideal rotation": 2.5, "1° tilt": 2.5}, {"f": 10.1, "ideal rotation": 5, "1° tilt": 4}, {"f": 10.2, "ideal rotation": 3.16, "1° tilt": 6.3}, {"f": 10.3, "ideal rotation": 15.8, "1° tilt": 3.16}, {"f": 10.4, "ideal rotation": 7.9, "1° tilt": 5}, {"f": 10.5, "ideal rotation": 20, "1° tilt": 2.5}, {"f": 10.6, "ideal rotation": 3.16, "1° tilt": 4}, {"f": 10.7, "ideal rotation": 2.5, "1° tilt": 6.3}, {"f": 10.8, "ideal rotation": 3.16, "1° tilt": 5}, {"f": 10.9, "ideal rotation": 2.5, "1° tilt": 63},
            {"f": 11.0, "ideal rotation": 3.16, "1° tilt": 1.26e3}, {"f": 11.1, "ideal rotation": 2.5, "1° tilt": 10}, {"f": 11.2, "ideal rotation": 2, "1° tilt": 4}, {"f": 11.3, "ideal rotation": 3.16, "1° tilt": 2.5}, {"f": 11.4, "ideal rotation": 2.5, "1° tilt": 3.16}, {"f": 11.5, "ideal rotation": 2, "1° tilt": 5}, {"f": 11.6, "ideal rotation": 3.16, "1° tilt": 2.5}, {"f": 11.7, "ideal rotation": 2.5, "1° tilt": 4}, {"f": 11.8, "ideal rotation": 2, "1° tilt": 3.16}, {"f": 11.9, "ideal rotation": 2.5, "1° tilt": 40},
            {"f": 12.0, "ideal rotation": 5.0e4, "1° tilt": 3.16e4}, {"f": 12.1, "ideal rotation": 3.16, "1° tilt": 25}, {"f": 12.2, "ideal rotation": 2.5, "1° tilt": 4}, {"f": 12.3, "ideal rotation": 3.16, "1° tilt": 2.5}, {"f": 12.4, "ideal rotation": 2.5, "1° tilt": 3.16}, {"f": 12.5, "ideal rotation": 2, "1° tilt": 2.5}, {"f": 12.6, "ideal rotation": 2.5, "1° tilt": 4}, {"f": 12.7, "ideal rotation": 3.16, "1° tilt": 3.16}, {"f": 12.8, "ideal rotation": 2.5, "1° tilt": 2.5}, {"f": 12.9, "ideal rotation": 2, "1° tilt": 7.9},
            {"f": 13.0, "ideal rotation": 2.5, "1° tilt": 50}
          ]},
          "transform": [{"fold": ["ideal rotation", "1° tilt"], "as": ["series", "psd"]}],
          "mark": {"type": "line", "strokeWidth": 1.5, "clip": true},
          "encoding": {
            "x": {"field": "f", "type": "quantitative", "scale": {"domain": [0, 13], "nice": false},
                  "axis": {"title": "f / fᵣₒₜ", "values": [0, 1, 2, 3, 4, 5, 6, 7, 8, 9, 10, 11, 12, 13], "labelExpr": "datum.value % 2 == 0 ? datum.label : ''", "grid": true, "titlePadding": 2}},
            "y": {"field": "psd", "type": "quantitative", "scale": {"type": "log", "domain": [10, 1e8], "nice": false},
                  "axis": {"title": ["PSD of Δp", "[mmHg²/Hz]"], "values": [10, 100, 1000, 1e4, 1e5, 1e6, 1e7, 1e8], "labelExpr": "datum.value == 100000 ? '10⁵' : ''", "grid": true, "titlePadding": 2}},
            "color": {"field": "series", "type": "nominal",
                      "scale": {"domain": ["ideal rotation", "1° tilt"], "range": ["#0072BD", "#D95319"]},
                      "legend": {"orient": "none", "legendX": 83, "legendY": 118, "direction": "horizontal", "title": null, "symbolType": "stroke", "symbolSize": 324, "symbolStrokeWidth": 1.5, "labelOffset": 4, "columnPadding": 2}},
            "strokeDash": {"field": "series", "type": "nominal",
                           "scale": {"domain": ["ideal rotation", "1° tilt"], "range": [[1, 0], [5, 3]]},
                           "legend": {"orient": "none", "legendX": 83, "legendY": 118, "direction": "horizontal", "title": null, "symbolType": "stroke", "symbolSize": 324, "symbolStrokeWidth": 1.5, "labelOffset": 4, "columnPadding": 2}}
          }
        }
      ]
    }
  ]
}
